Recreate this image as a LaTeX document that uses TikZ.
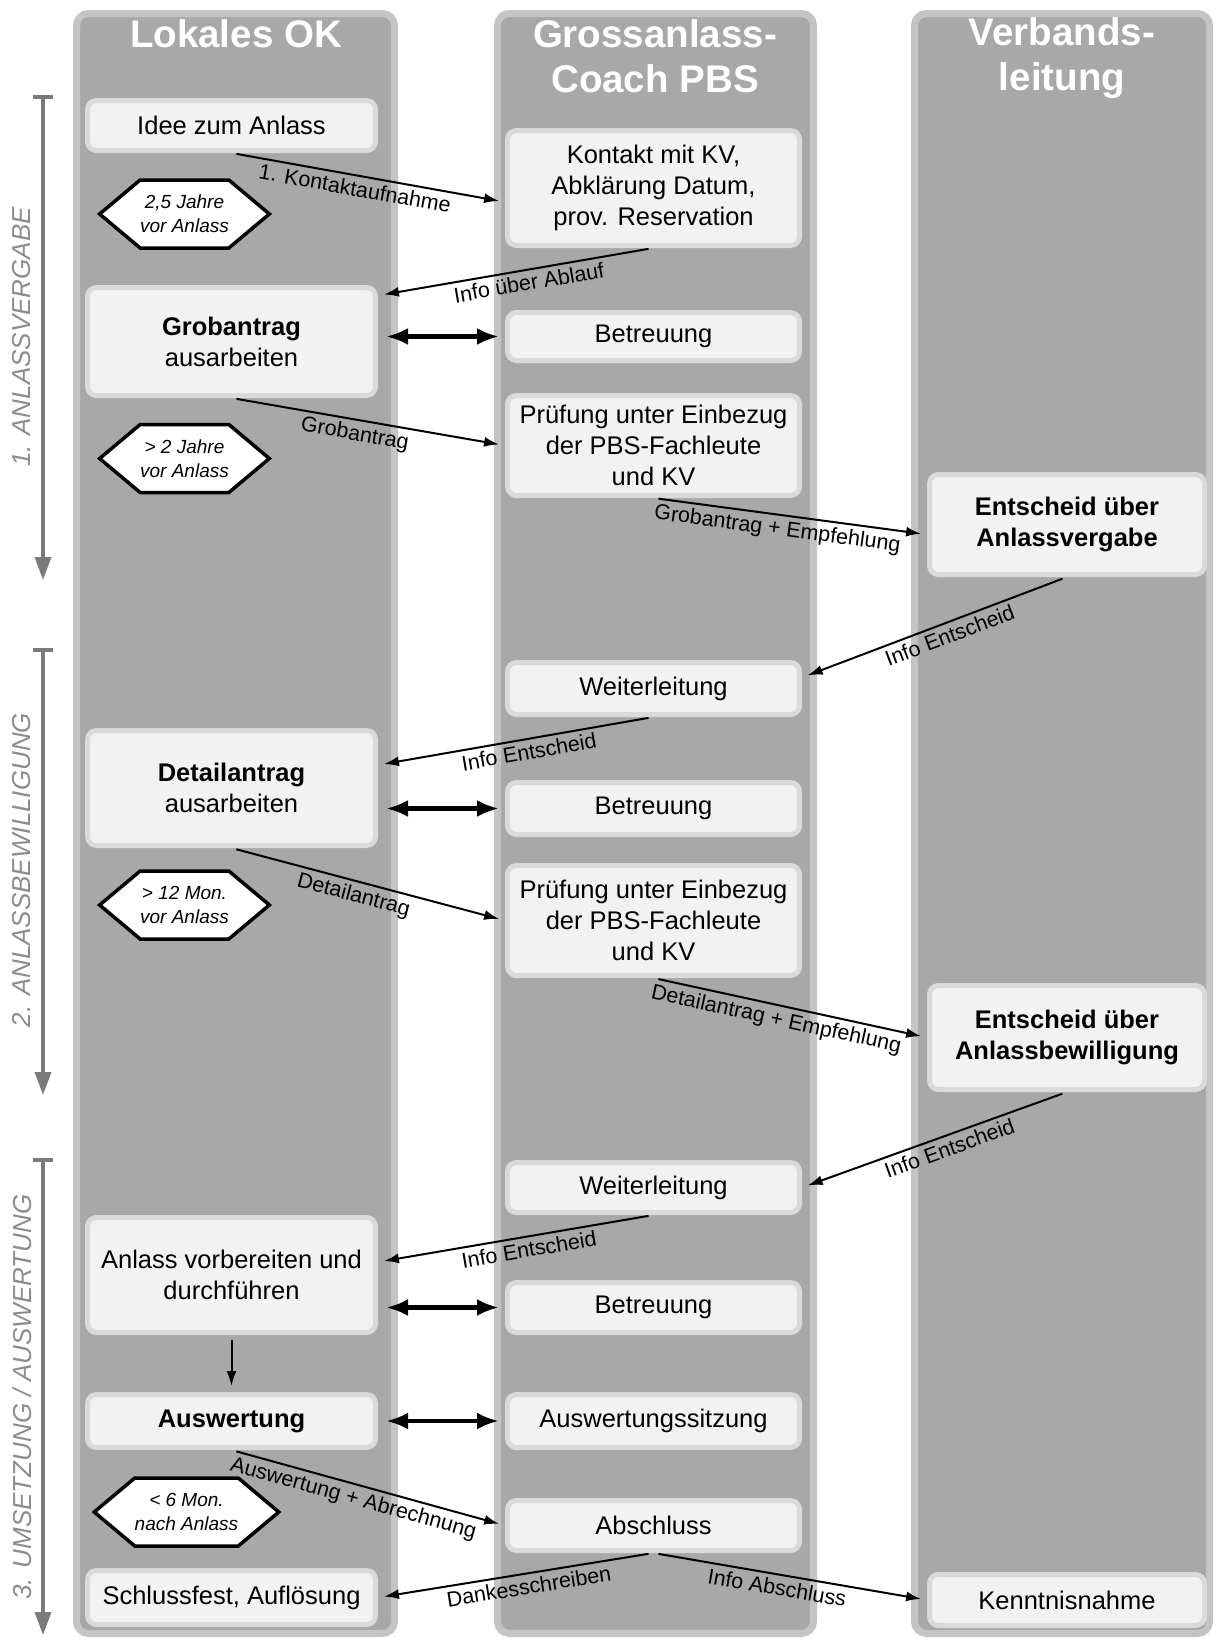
\documentclass[tikz,border=0pt]{standalone}
\usepackage{fontspec}
\setmainfont{Liberation Sans}
\usepackage{xcolor}
\usetikzlibrary{arrows.meta}
\usetikzlibrary{shapes.symbols}

\definecolor{lanegray}{RGB}{168,168,168}
\definecolor{laneedge}{RGB}{196,196,196}
\definecolor{boxfill}{RGB}{242,242,242}
\definecolor{boxedge}{RGB}{218,218,218}
\definecolor{phasegray}{RGB}{122,122,122}
\definecolor{phasetext}{RGB}{140,140,140}

\begin{document}
\begin{tikzpicture}[x=1pt,y=-1pt]
	%\draw[help lines] (0,0) grid (1217,1641);
	\useasboundingbox (0,0) rectangle (1217,1641);

	\tikzstyle{lane} = [fill=lanegray,draw=laneedge,line width=7pt,rounded corners=12pt]
	\tikzstyle{lanetitle} = [text=white,align=center,font=\fontsize{38.5}{45}\selectfont\bfseries]
	\tikzstyle{abox} = [rectangle,rounded corners=9pt,fill=boxfill,draw=boxedge,line width=5pt,align=center,inner sep=0pt,font=\fontsize{25.5}{31}\selectfont]
	\tikzstyle{lbox} = [abox,minimum width=288]
	\tikzstyle{mbox} = [abox,minimum width=292]
	\tikzstyle{rbox} = [abox,minimum width=275]
	\tikzstyle{hexnode} = [signal,signal to=east and west,signal pointer angle=80,draw,line width=3.5pt,fill=white,align=center,inner sep=0pt,minimum width=161,minimum height=68,font=\fontsize{19}{24}\selectfont\itshape]
	\tikzstyle{flow} = [-{Latex[length=15pt,width=10pt]},line width=2pt,shorten <=5pt,shorten >=6pt]
	\tikzstyle{both} = [{Latex[length=22pt,width=17pt]}-{Latex[length=22pt,width=17pt]},line width=4.5pt,shorten <=8pt,shorten >=6pt]
	\tikzstyle{lbl} = [font=\fontsize{21.5}{24}\selectfont,sloped,below,pos=0.46,inner sep=4pt]
	\tikzstyle{phase} = [draw=phasegray,line width=3.5pt,{Bar[width=20pt,line width=4pt]}-{Triangle[length=23pt,width=16pt]}]
	\tikzstyle{phaselbl} = [rotate=90,text=phasetext,font=\fontsize{26}{30}\selectfont\itshape]

	% lanes
	\draw[lane] (76.5,13.5) rectangle (394.5,1633.5);
	\draw[lane] (497.5,13.5) rectangle (813.5,1633.5);
	\draw[lane] (914.5,13.5) rectangle (1209.5,1633.5);

	\node[lanetitle] (tok) at (236,34) {Lokales OK};
	\node[lanetitle] (tcoach) at (655,56) {Grossanlass-\\Coach PBS};
	\node[lanetitle] (tvl) at (1062,58) {Verbands-\\leitung};

	% phases
	\coordinate (pa1) at (43,95);
	\coordinate (pb1) at (43,580);
	\coordinate (pa2) at (43,648);
	\coordinate (pb2) at (43,1095);
	\coordinate (pa3) at (43,1158);
	\coordinate (pb3) at (43,1635);
	\draw[phase] (pa1) -- (pb1);
	\draw[phase] (pa2) -- (pb2);
	\draw[phase] (pa3) -- (pb3);
	\node[phaselbl] (ph1) at (22,337) {1. ANLASSVERGABE};
	\node[phaselbl] (ph2) at (22,870) {2. ANLASSBEWILLIGUNG};
	\node[phaselbl] (ph3) at (22,1397) {3. UMSETZUNG / AUSWERTUNG};

	% lokales OK
	\node[lbox,minimum height=50] (idee) at (231.5,125.5) {Idee zum Anlass};
	\node[lbox,minimum height=108] (grob) at (231.5,341.5) {\textbf{Grobantrag}\\ausarbeiten};
	\node[lbox,minimum height=115] (detail) at (231.5,788) {\textbf{Detailantrag}\\ausarbeiten};
	\node[lbox,minimum height=115] (anlass) at (231.5,1275) {Anlass vorbereiten und\\durchführen};
	\node[lbox,minimum height=53] (ausw) at (231.5,1421) {\textbf{Auswertung}};
	\node[lbox,minimum height=54] (schluss) at (231.5,1597.5) {Schlussfest, Auflösung};

	\node[hexnode] (hex1) at (184.5,214) {2,5 Jahre\\vor Anlass};
	\node[hexnode] (hex2) at (184.5,458.5) {> 2 Jahre\\vor Anlass};
	\node[hexnode] (hex3) at (184.5,905) {> 12 Mon.\\vor Anlass};
	\node[hexnode] (hex4) at (186.5,1512) {< 6 Mon.\\nach Anlass};

	% coach
	\node[mbox,minimum height=115] (kontakt) at (653.5,188) {Kontakt mit KV,\\Abklärung Datum,\\prov. Reservation};
	\node[mbox,minimum height=48] (betr1) at (653.5,336.5) {Betreuung};
	\node[mbox,minimum height=100] (pruef1) at (653.5,445.5) {Prüfung unter Einbezug\\der PBS-Fachleute\\und KV};
	\node[mbox,minimum height=52] (weiter1) at (653.5,688.5) {Weiterleitung};
	\node[mbox,minimum height=52] (betr2) at (653.5,808.5) {Betreuung};
	\node[mbox,minimum height=110] (pruef2) at (653.5,920.5) {Prüfung unter Einbezug\\der PBS-Fachleute\\und KV};
	\node[mbox,minimum height=50] (weiter2) at (653.5,1187.5) {Weiterleitung};
	\node[mbox,minimum height=50] (betr3) at (653.5,1307.5) {Betreuung};
	\node[mbox,minimum height=53] (sitzung) at (653.5,1421) {Auswertungssitzung};
	\node[mbox,minimum height=50] (abschluss) at (653.5,1525.5) {Abschluss};

	% verbandsleitung
	\node[rbox,minimum height=100] (ent1) at (1067,524.5) {\textbf{Entscheid über}\\\textbf{Anlassvergabe}};
	\node[rbox,minimum height=104] (ent2) at (1067,1037.5) {\textbf{Entscheid über}\\\textbf{Anlassbewilligung}};
	\node[rbox,minimum height=51] (kenntnis) at (1067,1600) {Kenntnisnahme};

	% connections
	\draw (idee.south) edge [flow] node[lbl] {1. Kontaktaufnahme} ([yshift=-14pt]kontakt.west);
	\draw (kontakt.south) edge [flow] node[lbl] {Info über Ablauf} ([yshift=46pt]grob.east);
	\draw (grob.east |- betr1.west) edge [both] (betr1.west);
	\draw (grob.south) edge [flow] node[lbl] {Grobantrag} (pruef1.west);
	\draw (pruef1.south) edge [flow] node[lbl] {Grobantrag + Empfehlung} ([yshift=-10pt]ent1.west);
	\draw (ent1.south) edge [flow] node[lbl] {Info Entscheid} ([yshift=11pt]weiter1.east);

	\draw (weiter1.south) edge [flow] node[lbl] {Info Entscheid} ([yshift=23pt]detail.east);
	\draw (detail.east |- betr2.west) edge [both] (betr2.west);
	\draw (detail.south) edge [flow] node[lbl] {Detailantrag} (pruef2.west);
	\draw (pruef2.south) edge [flow] node[lbl] {Detailantrag + Empfehlung} (ent2.west);
	\draw (ent2.south) edge [flow] node[lbl] {Info Entscheid} (weiter2.east);

	\draw (weiter2.south) edge [flow] node[lbl] {Info Entscheid} ([yshift=13pt]anlass.east);
	\draw (anlass.east |- betr3.west) edge [both] (betr3.west);
	\draw (anlass.south) edge [flow] (ausw.north);
	\draw (ausw.east) edge [both] (sitzung.west);
	\draw (ausw.south) edge [flow] node[lbl] {Auswertung + Abrechnung} (abschluss.west);
	\draw (abschluss.south) edge [flow] node[lbl] {Dankesschreiben} (schluss.east);
	\draw (abschluss.south) edge [flow] node[lbl] {Info Abschluss} (kenntnis.west);

\end{tikzpicture}
\end{document}
